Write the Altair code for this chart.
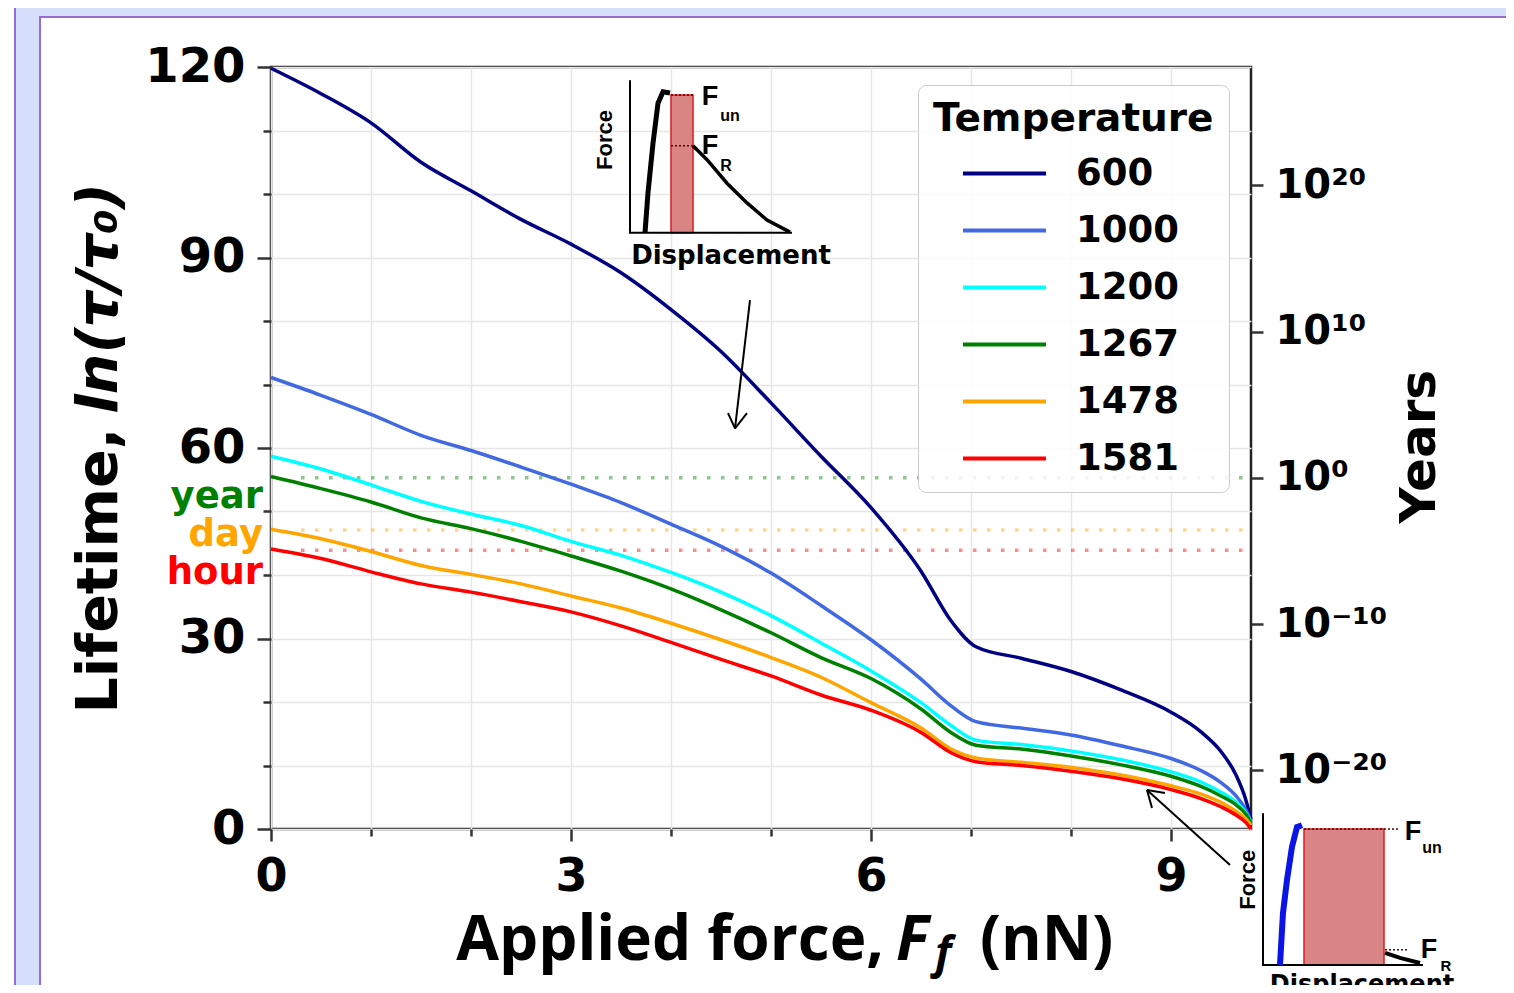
import altair as alt
import pandas as pd

# ---------------- values ----------------
force_nN = [0, 0.5, 1, 1.5, 2, 2.5, 3, 3.5, 4, 4.5, 5, 5.5, 6, 6.5, 6.8, 7.05,
            7.5, 8, 8.5, 9, 9.3, 9.5, 9.65, 9.75, 9.8]
temperatures = ["600", "1000", "1200", "1267", "1478", "1581"]
temp_colors = ["#000080", "#4169e1", "#00ffff", "#008000", "#ffa500", "#ff0000"]
lifetime_600 = [119.8, 115.8, 111.2, 105.0, 100.5, 96.0, 92.1, 87.6, 81.8, 75.2, 67.1, 58.7,
                50.6, 40.6, 32.8, 28.7, 26.9, 24.8, 21.9, 18.4, 15.3, 12.2, 8.5, 4.5, 1.5]
lifetime_1000 = [71.1, 68.3, 65.3, 62.0, 59.6, 57.0, 54.3, 51.4, 48.0, 44.5, 40.3, 35.2,
                 29.8, 23.6, 19.4, 16.9, 15.9, 14.8, 13.1, 11.1, 9.2, 7.3, 5.2, 3.0, 1.2]
lifetime_1200 = [58.7, 56.7, 54.2, 51.6, 49.6, 47.8, 45.3, 43.1, 40.4, 37.3, 33.6, 29.3,
                 24.9, 19.9, 16.3, 14.0, 13.3, 12.3, 10.9, 9.0, 7.4, 5.8, 4.2, 2.5, 1.0]
lifetime_1267 = [55.5, 53.6, 51.5, 49.0, 47.3, 45.3, 43.0, 40.6, 37.8, 34.5, 30.9, 27.0,
                 23.7, 18.9, 15.2, 13.2, 12.6, 11.5, 10.1, 8.3, 6.7, 5.2, 3.8, 2.3, 0.9]
lifetime_1478 = [47.2, 45.7, 43.7, 41.5, 40.1, 38.6, 36.7, 34.8, 32.4, 29.8, 27.0, 23.9,
                 19.9, 15.9, 12.6, 11.2, 10.5, 9.7, 8.5, 6.8, 5.5, 4.2, 2.8, 1.6, 0.6]
lifetime_1581 = [44.1, 42.6, 40.5, 38.6, 37.3, 35.8, 34.2, 32.0, 29.4, 26.7, 24.1, 21.1,
                 18.7, 15.2, 12.0, 10.6, 10.0, 9.1, 7.9, 6.2, 4.8, 3.5, 2.2, 1.0, 0.0]
series = [lifetime_600, lifetime_1000, lifetime_1200, lifetime_1267, lifetime_1478, lifetime_1581]

ref_names = ["year", "day", "hour"]
ref_lifetime = [55.3, 47.1, 43.9]
ref_colors = ["#008000", "#ffa500", "#ff0000"]
ref_label_pos = [52.3, 46.3, 40.3]

year_exponents = [-20, -10, 0, 10, 20]
year_labels = ["10\u207b\u00b2\u2070", "10\u207b\u00b9\u2070", "10\u2070", "10\u00b9\u2070", "10\u00b2\u2070"]

x_ticks = list(range(0, 10))
y_ticks = list(range(0, 121, 10))

# ---------------- scales / axes ----------------
LN10 = 2.302585
YEAR = ref_lifetime[0]
FONT = "DejaVu Sans"

xscale = alt.Scale(domain=[0, 9.8], nice=False, zero=False)
yscale = alt.Scale(domain=[0, 120], nice=False, zero=False)
yr_scale = alt.Scale(domain=[(0 - YEAR) / LN10, (120 - YEAR) / LN10], nice=False, zero=False)

common_axis = dict(title=None, grid=True, gridColor="#e6e6e6", gridWidth=1.5, domain=False,
                   tickColor="#333333", tickWidth=2.5, labelFont=FONT, labelFontWeight="bold",
                   labelColor="black", labelFlush=False, labelOverlap=False, labelBound=False)
xaxis = alt.Axis(values=x_ticks, labelExpr="datum.value % 3 === 0 ? datum.label : ''",
                 tickSize={"condition": {"test": "datum.value % 3 === 0", "value": 12}, "value": 7},
                 labelFontSize=46, labelPadding=13, **common_axis)
yaxis = alt.Axis(values=y_ticks, orient="left", labelExpr="datum.value % 30 === 0 ? datum.label : ''",
                 tickSize={"condition": {"test": "datum.value % 30 === 0", "value": 14}, "value": 8},
                 labelFontSize=48, labelPadding=12, **common_axis)

lab_expr = "''"
for e, l in zip(year_exponents, year_labels):
    lab_expr = f"datum.value === {e} ? '{l}' : ({lab_expr})"
raxis = alt.Axis(values=year_exponents, orient="right", labelExpr=lab_expr, title=None, grid=False,
                 domain=False, tickSize=12, tickColor="#333333", tickWidth=2.5, labelFont=FONT,
                 labelFontWeight="bold", labelFontSize=40, labelColor="black", labelPadding=12,
                 labelFlush=False, labelOverlap=False, labelBound=False)


def X(f="x"):
    return alt.X(f"{f}:Q", scale=xscale, axis=xaxis)


def Y(f="y"):
    return alt.Y(f"{f}:Q", scale=yscale, axis=yaxis)


layers = []

# ---------------- decoration: page frame (data units of the main axes) ----------------
LAV = "#d5defb"
PUR = "#9a6ad2"
strips = pd.DataFrame({"x": [-2.56, -2.56, 12.39], "x2": [12.6, -2.31, 12.6],
                       "y": [127.87, -28, -28], "y2": [133, 133, 133]})
layers.append(alt.Chart(strips).mark_rect(color=LAV).encode(X(), alt.X2("x2:Q"), Y(), alt.Y2("y2:Q")))
panel = pd.DataFrame({"x": [-2.31], "x2": [12.39], "y": [-28], "y2": [127.87]})
layers.append(alt.Chart(panel).mark_rect(fillOpacity=0, stroke=PUR, strokeWidth=2)
              .encode(X(), alt.X2("x2:Q"), Y(), alt.Y2("y2:Q")))
outer = pd.DataFrame({"x": [-2.56], "y": [-28], "y2": [133]})
layers.append(alt.Chart(outer).mark_rule(color=PUR, strokeWidth=2).encode(X(), Y(), alt.Y2("y2:Q")))

# ---------------- reference dotted lines ----------------
for name, val, col in zip(ref_names, ref_lifetime, ref_colors):
    d = pd.DataFrame({"x": [0.3], "x2": [9.8], "y": [val]})
    layers.append(alt.Chart(d).mark_rule(color=col, strokeWidth=3.5, strokeDash=[3.5, 10.5], opacity=0.45)
                  .encode(X(), alt.X2("x2:Q"), Y()))

# ---------------- curves ----------------
rows = []
for t, vals in zip(temperatures, series):
    for f, v in zip(force_nN, vals):
        rows.append({"x": f, "y": v, "temp": t})
curves = pd.DataFrame(rows)
# a wide horizontal stroke as the legend symbol: path spans 6 units of a 2-unit box
legend = alt.Legend(title="Temperature", orient="none", legendX=647, legendY=18, direction="vertical",
                    symbolType="M-3,0H3", symbolSize=766, symbolStrokeWidth=4, symbolOffset=53,
                    labelOffset=53, labelFont=FONT, labelFontWeight="bold", labelFontSize=37,
                    labelColor="black", titleFont=FONT, titleFontWeight="bold", titleFontSize=39,
                    titleColor="black", titleLimit=600, labelLimit=400, padding=15,
                    fillColor="rgba(255,255,255,0.85)", strokeColor="#cccccc", cornerRadius=8,
                    rowPadding=19, titlePadding=16)
layers.append(alt.Chart(curves).mark_line(strokeWidth=3.5, interpolate="monotone").encode(
    X(), Y(), color=alt.Color("temp:N", scale=alt.Scale(domain=temperatures, range=temp_colors),
                              sort=temperatures, legend=legend)))

# ---------------- year / day / hour labels ----------------
for name, pos, col in zip(ref_names, ref_label_pos, ref_colors):
    d = pd.DataFrame({"x": [-0.08], "y": [pos], "t": [name]})
    layers.append(alt.Chart(d).mark_text(align="right", baseline="middle", font=FONT, fontWeight="bold",
                                         fontSize=37, color=col).encode(X(), Y(), text="t:N"))

# ---------------- insets (schematics) ----------------
def poly(xs, ys, color, width, dash=None):
    d = pd.DataFrame({"x": xs, "y": ys, "i": list(range(len(xs)))})
    kw = dict(color=color, strokeWidth=width)
    if dash:
        kw["strokeDash"] = dash
    return alt.Chart(d).mark_line(**kw).encode(X(), Y(), order="i:Q")


def label(x, y, t, size, angle=0, align="center", weight="bold", font="Liberation Sans"):
    d = pd.DataFrame({"x": [x], "y": [y], "t": [t]})
    kw = dict(align=align, baseline="middle", font=font, fontWeight=weight, fontSize=size, color="black")
    if angle:
        kw["angle"] = angle
    return alt.Chart(d).mark_text(**kw).encode(X(), Y(), text="t:N")


HATCH = "#d98585"
# top inset
rect1 = pd.DataFrame({"x": [4.00], "x2": [4.22], "y": [93.9], "y2": [115.6]})
layers.append(alt.Chart(rect1).mark_rect(color=HATCH, stroke="#e01b1b", strokeWidth=1.5)
              .encode(X(), alt.X2("x2:Q"), Y(), alt.Y2("y2:Q")))
layers.append(poly([4.00, 4.22], [115.6, 115.6], "#600000", 1.5, [2, 2]))
layers.append(poly([4.00, 4.22], [107.6, 107.6], "#600000", 1.5, [2, 2]))
layers.append(poly([3.59, 3.59, 5.21], [117.9, 93.9, 93.9], "black", 2))
layers.append(poly([3.74, 3.77, 3.82, 3.87, 3.92, 3.99], [93.9, 100.2, 108.0, 114.3, 116.1, 115.9], "black", 5))
layers.append(poly([4.22, 4.36, 4.56, 4.76, 4.96, 5.19], [107.6, 105.4, 101.7, 98.6, 95.9, 94.0], "black", 3.5))
layers.append(label(3.34, 108.5, "Force", 22, angle=270))
layers.append(label(4.60, 90.2, "Displacement", 26, font=FONT))
layers.append(label(4.39, 115.3, "F", 27))
layers.append(label(4.59, 112.3, "un", 16))
layers.append(label(4.39, 107.6, "F", 27))
layers.append(label(4.55, 104.4, "R", 16))

# bottom-right inset
rect2 = pd.DataFrame({"x": [10.33], "x2": [11.13], "y": [-21.4], "y2": [0.0]})
layers.append(alt.Chart(rect2).mark_rect(color=HATCH, stroke="#e01b1b", strokeWidth=1.5)
              .encode(X(), alt.X2("x2:Q"), Y(), alt.Y2("y2:Q")))
layers.append(poly([10.33, 11.29], [0.0, 0.0], "#600000", 1.5, [2, 2]))
layers.append(poly([11.14, 11.37], [-19.0, -19.0], "#600000", 1.5, [2, 2]))
layers.append(poly([9.92, 9.92, 11.52], [2.5, -21.4, -21.4], "black", 2))
layers.append(poly([10.09, 10.12, 10.16, 10.21, 10.26, 10.31], [-21.4, -13.2, -8.0, -2.8, 0.3, 0.6], "#0a14e6", 6))
layers.append(poly([11.14, 11.29, 11.49], [-19.5, -20.3, -21.1], "black", 4))
layers.append(label(9.77, -8.0, "Force", 22, angle=270))
layers.append(label(10.91, -24.6, "Displacement", 24, font=FONT))
layers.append(label(11.42, -0.5, "F", 27))
layers.append(label(11.61, -3.0, "un", 16))
layers.append(label(11.58, -19.0, "F", 27))
layers.append(label(11.75, -21.6, "R", 15))

# arrows
arrows = pd.DataFrame({"x": [4.79, 4.57, 4.76, 9.59, 8.81, 8.94],
                       "y": [83.3, 65.5, 65.5, -5.67, 3.3, 5.67],
                       "x2": [4.64, 4.64, 4.64, 8.76, 8.76, 8.76],
                       "y2": [63.1, 63.1, 63.1, 6.14, 6.14, 6.14]})
layers.append(alt.Chart(arrows).mark_rule(color="black", strokeWidth=2)
              .encode(X(), Y(), alt.X2("x2:Q"), alt.Y2("y2:Q")))

# ---------------- axis titles as text ----------------
TF = "Open Sans"
layers.append(alt.Chart(pd.DataFrame({"x": [6.25], "y": [-20.6], "t": ["Applied  force,"]}))
              .mark_text(align="right", baseline="alphabetic", dx=-12, font=TF, fontWeight="bold",
                         fontSize=62, color="black").encode(X(), Y(), text="t:N"))
layers.append(alt.Chart(pd.DataFrame({"x": [6.25], "y": [-20.6], "t": ["F"]}))
              .mark_text(align="left", baseline="alphabetic", font=TF, fontWeight="bold", fontStyle="italic",
                         fontSize=62, color="black").encode(X(), Y(), text="t:N"))
layers.append(alt.Chart(pd.DataFrame({"x": [6.25], "y": [-20.6], "t": ["f"]}))
              .mark_text(align="left", baseline="alphabetic", dx=39, dy=8, font=TF, fontWeight="bold",
                         fontStyle="italic", fontSize=44, color="black").encode(X(), Y(), text="t:N"))
layers.append(alt.Chart(pd.DataFrame({"x": [6.25], "y": [-20.6], "t": ["(nN)"]}))
              .mark_text(align="left", baseline="alphabetic", dx=84, font=TF, fontWeight="bold",
                         fontSize=62, color="black").encode(X(), Y(), text="t:N"))

layers.append(alt.Chart(pd.DataFrame({"x": [-1.71], "y": [63.2], "t": ["Lifetime,"]}))
              .mark_text(align="right", baseline="middle", angle=270, font=FONT, fontWeight="bold",
                         fontSize=57, color="black").encode(X(), Y(), text="t:N"))
layers.append(alt.Chart(pd.DataFrame({"x": [-1.71], "y": [65.4], "t": ["ln(\u03c4/\u03c4\u2080)"]}))
              .mark_text(align="left", baseline="middle", angle=270, font=FONT, fontWeight="bold",
                         fontStyle="italic", fontSize=57, color="black").encode(X(), Y(), text="t:N"))
layers.append(alt.Chart(pd.DataFrame({"x": [11.49], "y": [60.2], "t": ["Years"]}))
              .mark_text(align="center", baseline="middle", angle=270, font=FONT, fontWeight="bold",
                         fontSize=50, color="black").encode(X(), Y(), text="t:N"))

left = alt.layer(*layers)

right = alt.Chart(pd.DataFrame({"e": year_exponents})).mark_point(opacity=0).encode(
    y=alt.Y("e:Q", scale=yr_scale, axis=raxis))

chart = (
    alt.layer(left, right)
    .resolve_scale(y="independent")
    .properties(width=980, height=762, autosize=alt.AutoSizeParams(type="none"),
                padding={"left": 263, "top": 59, "right": 255, "bottom": 156})
    .configure(background="white")
    .configure_view(stroke="#222222", strokeWidth=2.5)
)

chart.save("out.html", embed_options={"renderer": "svg", "actions": False})
